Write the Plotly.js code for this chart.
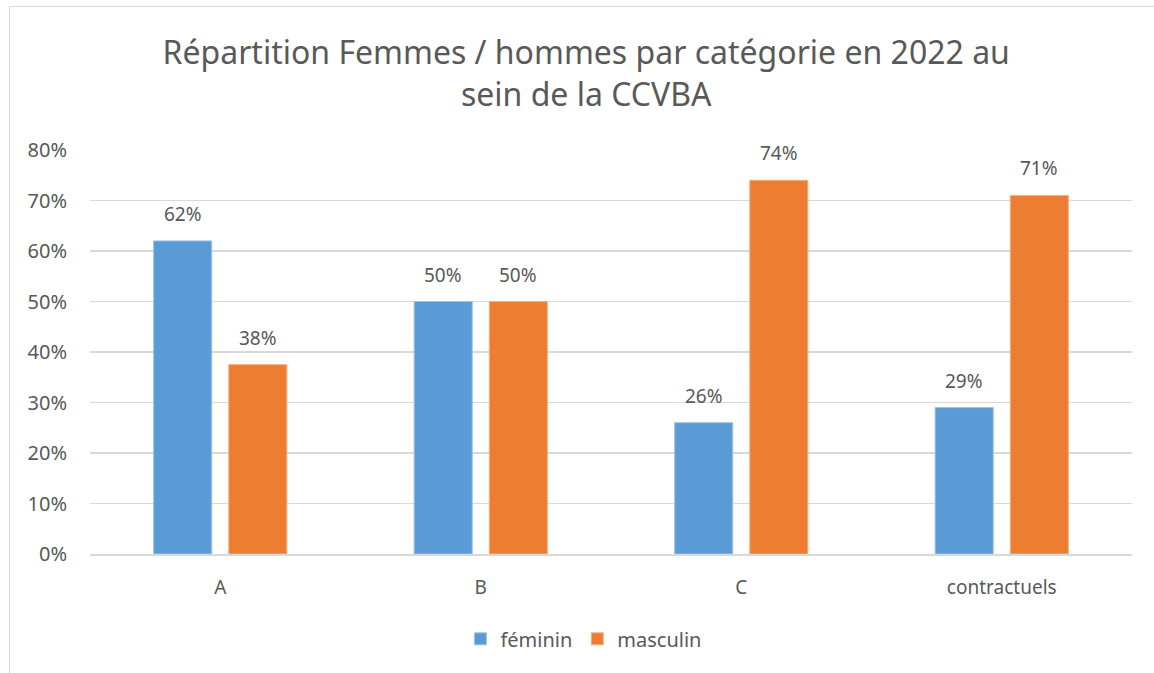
<!DOCTYPE html>
<html>
<head>
<meta charset="utf-8">
<script src="https://cdn.plot.ly/plotly-3.0.1.min.js"></script>
<style>
html,body{margin:0;padding:0;background:#fff;}
#wrap{position:relative;width:1154px;height:673px;overflow:hidden;}
#frame{position:absolute;left:9px;top:6px;width:1160px;height:700px;border:1.5px solid #d9d9d9;box-sizing:border-box;pointer-events:none;z-index:5;}
#chart{position:absolute;left:0;top:0;width:1154px;height:673px;}
</style>
</head>
<body>
<div id="wrap"><div id="chart"></div><div id="frame"></div></div>
<script>
var categories = ["A", "B", "C", "contractuels"];
var feminin = [62, 50, 26, 29];
var masculin = [37.5, 50, 74, 71];
var tickVals = [0, 10, 20, 30, 40, 50, 60, 70, 80];
var tickText = ["0%", "10%", "20%", "30%", "40%", "50%", "60%", "70%", "80%"];

var txt = '#595959';
var fnt = 'Noto Sans, sans-serif';

var traces = [
  {type:'bar', name:'féminin', x:categories, y:feminin,
   marker:{color:'#5B9BD5', line:{color:'#9DC3E6', width:1}}, hoverinfo:'none'},
  {type:'bar', name:'masculin', x:categories, y:masculin,
   marker:{color:'#ED7D31', line:{color:'#F4B183', width:1}}, hoverinfo:'none'}
];

var annotations = [];
categories.forEach(function(c, i){
  annotations.push({x:c, y:feminin[i], xref:'x', yref:'y', text:Math.round(feminin[i]) + '%',
    showarrow:false, xshift:-37.5, yshift:12, yanchor:'bottom', font:{size:19, color:txt, family:fnt}});
  annotations.push({x:c, y:masculin[i], xref:'x', yref:'y', text:Math.round(masculin[i]) + '%',
    showarrow:false, xshift:37.5, yshift:12, yanchor:'bottom', font:{size:19, color:txt, family:fnt}});
});

var layout = {
  width:1154, height:673,
  margin:{l:90, r:22, t:150, b:119},
  paper_bgcolor:'rgba(0,0,0,0)', plot_bgcolor:'#fff',
  font:{family:fnt, color:txt},
  title:{text:'Répartition Femmes / hommes par catégorie en 2022 au<br>sein de la CCVBA',
    font:{size:32, color:txt, family:fnt}, x:0.508, xanchor:'center', y:0.905, yanchor:'top'},
  barmode:'group', bargap:0.423, bargroupgap:0.227,
  xaxis:{type:'category', showgrid:false, showline:true, linecolor:'#d9d9d9', linewidth:1.5,
    ticks:'', tickfont:{size:19, color:txt, family:fnt}, ticklabelstandoff:16},
  yaxis:{range:[0, 80], tickvals:tickVals, ticktext:tickText, showgrid:true, gridcolor:'#d9d9d9',
    gridwidth:1.5, zeroline:false, showline:false, ticks:'', ticklabelstandoff:22,
    tickfont:{size:20, color:txt, family:fnt}},
  showlegend:true,
  legend:{orientation:'h', x:0.474, xanchor:'center', y:-0.21, yanchor:'middle',
    font:{size:20, color:txt, family:fnt}, itemwidth:30, traceorder:'normal', itemclick:false},
  annotations:annotations
};

Plotly.newPlot('chart', traces, layout, {displayModeBar:false, staticPlot:true});
</script>
</body>
</html>
